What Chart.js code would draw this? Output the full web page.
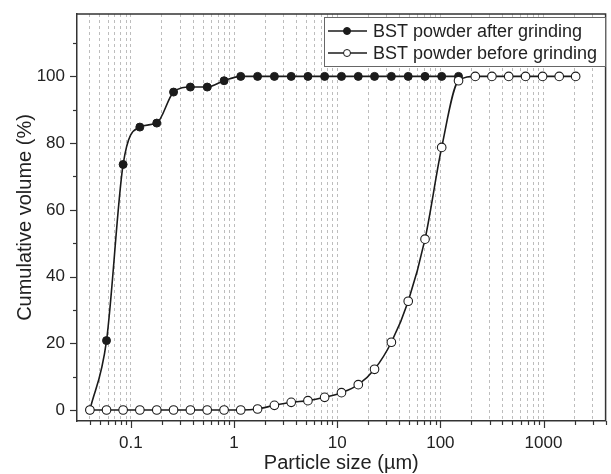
<!DOCTYPE html>
<html>
<head>
<meta charset="utf-8">
<script src="https://cdn.jsdelivr.net/npm/chart.js@4/dist/chart.umd.min.js"></script>
<style>
  html, body { margin: 0; padding: 0; background: #fff; }
  #wrap { width: 611px; height: 474px; }
</style>
</head>
<body>
<div id="wrap"><canvas id="psdChart" width="611" height="474"></canvas></div>
<script>
// particle size (µm) and cumulative volume (%)
const afterSizes = [0.04, 0.058, 0.084, 0.122, 0.178, 0.259, 0.377, 0.549, 0.80, 1.16, 1.69, 2.46,
    3.58, 5.2, 7.55, 11, 16, 23, 33.5, 48.8, 71, 103, 150];
const afterVolume = [0, 20.8, 73.6, 84.8, 86.0, 95.3, 96.8, 96.8, 98.7, 100, 100, 100,
    100, 100, 100, 100, 100, 100, 100, 100, 100, 100, 100];

const beforeSizes = [0.04, 0.058, 0.084, 0.122, 0.178, 0.259, 0.377, 0.549, 0.80, 1.16, 1.69, 2.46,
    3.58, 5.2, 7.55, 11, 16, 23, 33.5, 48.8, 71, 103, 150, 218, 316, 460, 670, 980, 1420, 2050];
const beforeVolume = [0, 0, 0, 0, 0, 0, 0, 0, 0, 0, 0.3, 1.4,
    2.3, 2.8, 3.8, 5.2, 7.6, 12.2, 20.3, 32.6, 51.2, 78.7, 98.7, 100, 100, 100, 100, 100, 100, 100];

const seriesLabels = ['BST powder after grinding', 'BST powder before grinding'];

// x axis: gridline / tick positions and labelled decades
const xTicks = [0.04, 0.05, 0.06, 0.07, 0.08, 0.09,
    0.1, 0.2, 0.3, 0.4, 0.5, 0.6, 0.7, 0.8, 0.9,
    1, 2, 3, 4, 5, 6, 7, 8, 9,
    10, 20, 30, 40, 50, 60, 70, 80, 90,
    100, 200, 300, 400, 500, 600, 700, 800, 900,
    1000, 2000, 3000, 4000];
const xLabels = [0.1, 1, 10, 100, 1000];

// y axis ticks
const yTicks = [0, 10, 20, 30, 40, 50, 60, 70, 80, 90, 100, 110];
const yLabels = [0, 20, 40, 60, 80, 100];

const ink = '#1b1b1b';
const axisInk = '#333';
const fontFamily = '"Liberation Sans", Arial, sans-serif';

const toPoints = (xs, ys) => xs.map((x, i) => ({ x: x, y: ys[i] }));

const framePlugin = {
    id: 'frame',
    afterDraw(chart) {
        const ctx = chart.ctx;
        const area = chart.chartArea;
        const xs = chart.scales.x;
        const ys = chart.scales.y;

        ctx.save();
        ctx.strokeStyle = axisInk;
        ctx.lineWidth = 1.5;
        ctx.beginPath();
        ctx.moveTo(area.left, area.top);
        ctx.lineTo(area.right, area.top);
        ctx.lineTo(area.right, area.bottom);
        ctx.stroke();

        // tick marks
        ctx.lineWidth = 1.2;
        xTicks.forEach(v => {
            const px = Math.round(xs.getPixelForValue(v)) + 0.5;
            const len = xLabels.includes(v) ? 7 : 4;
            ctx.beginPath();
            ctx.moveTo(px, area.bottom);
            ctx.lineTo(px, area.bottom + len);
            ctx.stroke();
        });
        yTicks.forEach(v => {
            const py = Math.round(ys.getPixelForValue(v)) + 0.5;
            const len = yLabels.includes(v) ? 7 : 4;
            ctx.beginPath();
            ctx.moveTo(area.left, py);
            ctx.lineTo(area.left - len, py);
            ctx.stroke();
        });

        // legend
        const box = { left: 324, top: 17, right: 605, bottom: 66 };
        ctx.fillStyle = '#fff';
        ctx.fillRect(box.left, box.top, box.right - box.left, box.bottom - box.top);
        ctx.strokeStyle = '#666';
        ctx.lineWidth = 1;
        ctx.strokeRect(box.left + 0.5, box.top + 0.5, box.right - box.left, box.bottom - box.top);

        const rows = [31, 53];
        chart.data.datasets.forEach((ds, i) => {
            const cy = rows[i];
            ctx.strokeStyle = ink;
            ctx.lineWidth = 1.6;
            ctx.beginPath();
            ctx.moveTo(328, cy);
            ctx.lineTo(367, cy);
            ctx.stroke();
            ctx.beginPath();
            ctx.arc(347, cy, 3.5, 0, Math.PI * 2);
            ctx.fillStyle = ds.pointBackgroundColor;
            ctx.fill();
            ctx.lineWidth = 1;
            ctx.stroke();
            ctx.fillStyle = '#222';
            ctx.font = '18px ' + fontFamily;
            ctx.textBaseline = 'middle';
            ctx.textAlign = 'left';
            ctx.fillText(ds.label, 373, cy + 1);
        });
        ctx.restore();
    }
};

document.addEventListener('DOMContentLoaded', () => {
    const ctx = document.getElementById('psdChart').getContext('2d');

    const data = {
        datasets: [{
            label: seriesLabels[0],
            data: toPoints(afterSizes, afterVolume),
            borderColor: ink,
            borderWidth: 1.6,
            pointBackgroundColor: ink,
            pointBorderColor: ink,
            pointBorderWidth: 1,
            pointRadius: 4,
            cubicInterpolationMode: 'monotone',
            order: 2
        }, {
            label: seriesLabels[1],
            data: toPoints(beforeSizes, beforeVolume),
            borderColor: ink,
            borderWidth: 1.6,
            pointBackgroundColor: '#fff',
            pointBorderColor: ink,
            pointBorderWidth: 1.1,
            pointRadius: 4.3,
            cubicInterpolationMode: 'monotone',
            order: 1
        }]
    };

    const config = {
        type: 'line',
        data: data,
        options: {
            responsive: false,
            animation: false,
            layout: { padding: { top: 14, right: 1, left: 0, bottom: 0 } },
            plugins: {
                legend: { display: false },
                tooltip: { enabled: false }
            },
            scales: {
                x: {
                    type: 'logarithmic',
                    min: 0.03,
                    max: 4000,
                    afterBuildTicks: scale => {
                        scale.ticks = xTicks.map(v => ({ value: v }));
                    },
                    afterFit: scale => {
                        scale.height = 53;
                        scale.paddingLeft = 0;
                        scale.paddingRight = 0;
                    },
                    grid: {
                        display: true,
                        drawOnChartArea: true,
                        drawTicks: false,
                        color: '#bdbdbd',
                        lineWidth: 1
                    },
                    border: { display: true, color: axisInk, width: 1.5, dash: [3, 3] },
                    ticks: {
                        autoSkip: false,
                        maxRotation: 0,
                        padding: 12,
                        color: '#222',
                        font: { family: fontFamily, size: 17 },
                        callback: v => xLabels.includes(v) ? String(v) : ''
                    },
                    title: {
                        display: true,
                        text: 'Particle size (µm)',
                        color: '#222',
                        font: { family: fontFamily, size: 20, lineHeight: 1 },
                        padding: { top: 0, bottom: 1 }
                    }
                },
                y: {
                    type: 'linear',
                    min: -3.3,
                    max: 118.7,
                    afterBuildTicks: scale => {
                        scale.ticks = yTicks.map(v => ({ value: v }));
                    },
                    afterFit: scale => {
                        scale.width = 77;
                        scale.paddingTop = 0;
                        scale.paddingBottom = 0;
                    },
                    grid: { display: false, drawTicks: false },
                    border: { display: true, color: axisInk, width: 1.5 },
                    ticks: {
                        padding: 12,
                        color: '#222',
                        font: { family: fontFamily, size: 17 },
                        callback: v => yLabels.includes(v) ? String(v) : ''
                    },
                    title: {
                        display: true,
                        text: 'Cumulative volume (%)',
                        color: '#222',
                        font: { family: fontFamily, size: 20, lineHeight: 1.2 },
                        padding: { top: 13, bottom: 0 }
                    }
                }
            }
        },
        plugins: [framePlugin]
    };

    new Chart(ctx, config);
});
</script>
</body>
</html>
